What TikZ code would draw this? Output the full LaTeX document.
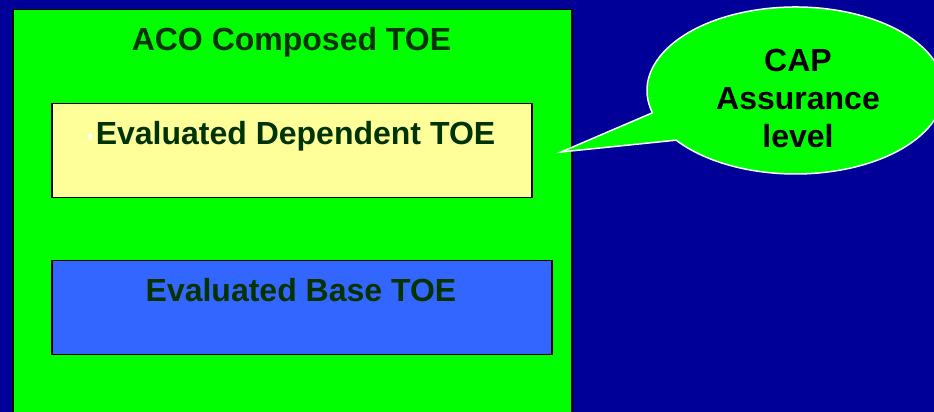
\documentclass[tikz,border=0pt]{standalone}
\usepackage{fontspec}
\setmainfont{Liberation Sans}
\usetikzlibrary{calc}
\definecolor{navybg}{RGB}{0,0,153}
\definecolor{brightgreen}{RGB}{0,255,0}
\definecolor{paleyellow}{RGB}{255,255,153}
\definecolor{midblue}{RGB}{51,102,255}
\definecolor{txtgreen}{RGB}{0,51,0}
\begin{document}
\begin{tikzpicture}[x=1pt,y=1pt,
  boxtext/.style={font=\fontsize{32}{38}\selectfont\bfseries, text=txtgreen, anchor=base, inner sep=0pt},
  framebox/.style={draw=black, line width=1.5pt, anchor=north west, inner sep=0pt}]
\fill[navybg] (0,0) rectangle (934,412);
\useasboundingbox (0,0) rectangle (934,412);
% outer composed TOE
\node[framebox, fill=brightgreen, minimum width=559pt, minimum height=420pt] (aco) at (12,403) {};
\node[boxtext] (acot) at (291.5,361.3) {ACO Composed TOE};
% dependent TOE
\node[framebox, fill=paleyellow, minimum width=480pt, minimum height=94pt] (dep) at (51,309) {};
\node[boxtext] (dept) at (295.5,267) {Evaluated Dependent TOE};
\fill[white] (90,275.5) circle (2.6);
% base TOE
\node[framebox, fill=midblue, minimum width=500pt, minimum height=94pt] (base) at (51,152) {};
\node[boxtext] (baset) at (301,110) {Evaluated Base TOE};
% callout
\coordinate (cc) at (795.5,321.5);
\coordinate (tip) at (561,260);
\draw[white, line width=1.5pt, fill=brightgreen, line join=miter]
  (tip) -- ($(cc)+(195.5:148.5 and 83.5)$)
  arc[start angle=195.5, end angle=-143.5, x radius=148.5, y radius=83.5]
  -- cycle;
\node[font=\fontsize{32}{38}\selectfont\bfseries, text=black, align=center, inner sep=0pt] (cap) at (798,313.5) {CAP\\Assurance\\level};
\end{tikzpicture}
\end{document}
